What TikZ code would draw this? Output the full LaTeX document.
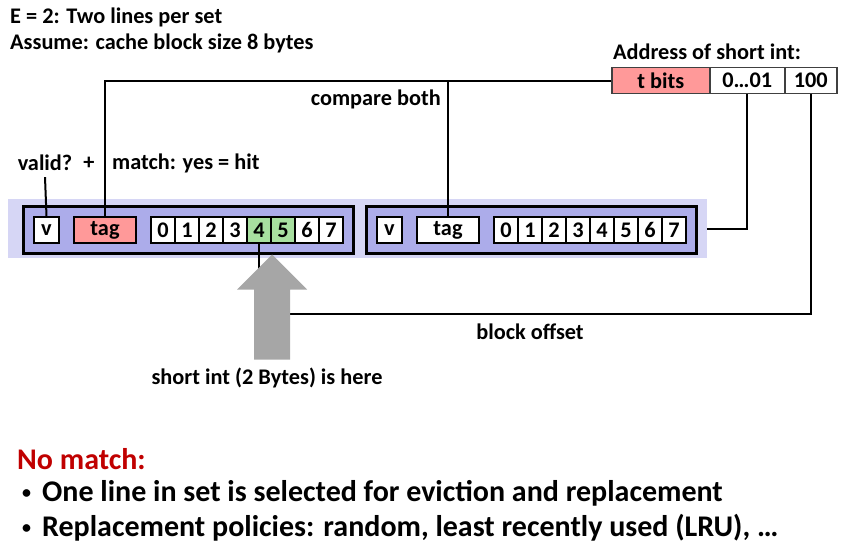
\documentclass[tikz,border=0pt]{standalone}
\usepackage{fontspec}
\setmainfont{Carlito}
\definecolor{lavouter}{RGB}{214,214,245}
\definecolor{linefill}{RGB}{172,172,234}
\definecolor{tagpink}{RGB}{255,153,153}
\definecolor{bytegreen}{RGB}{168,224,160}
\definecolor{arrowgray}{RGB}{166,166,166}
\definecolor{nored}{RGB}{192,0,0}
\definecolor{addrborder}{RGB}{64,64,64}
\newcommand{\smallbullet}{\raisebox{3pt}{\fontsize{18}{20}\selectfont•}\hspace{11pt}}
\begin{document}
\begin{tikzpicture}[x=1pt,y=-1pt,
  every node/.style={font=\bfseries\fontsize{22.3}{26}\selectfont},
  box/.style={draw, line width=2pt, minimum height=26pt, inner sep=0pt, anchor=north west, fill=white},
  cell/.style={box, minimum width=24pt},
  abox/.style={draw=addrborder, line width=1.5pt, minimum height=26pt, inner sep=0pt, anchor=north west, fill=white},
  linebox/.style={draw, line width=2.5pt, fill=linefill, minimum width=330pt, minimum height=47pt, anchor=north west, inner sep=0pt},
  wire/.style={line width=2pt},
  lbl/.style={inner sep=0pt},
  big/.style={inner sep=0pt, anchor=west, font=\bfseries\fontsize{30}{34}\selectfont}]
\useasboundingbox (0,0) rectangle (841,543);
% top texts
\node[lbl, anchor=west] (title1) at (10,17) {E = 2: Two lines per set};
\node[lbl, anchor=west] (title2) at (10,43) {Assume: cache block size 8 bytes};
% set
\node[fill=lavouter, minimum width=699pt, minimum height=59pt, anchor=north west, inner sep=0pt] (set) at (8,199) {};
% line 1
\node[linebox] (line1) at (22,205) {};
\node[box, minimum width=25pt] (v1) at (33,216) {v};
\node[box, minimum width=62pt, fill=tagpink] (tag1) at (73,216) {tag};
\foreach \k/\cc in {0/white,1/white,2/white,3/white,4/bytegreen,5/bytegreen,6/white,7/white}
  {\node[cell, fill=\cc] (c1-\k) at (150+24*\k,216) {\k};}
% line 2
\node[linebox] (line2) at (365,205) {};
\node[box, minimum width=25pt] (v2) at (376,216) {v};
\node[box, minimum width=62pt] (tag2) at (416,216) {tag};
\foreach \k in {0,...,7}
  {\node[cell] (c2-\k) at (493+24*\k,216) {\k};}
% address
\node[lbl] (addr) at (707,52) {Address of short int:};
\node[abox, minimum width=98pt, fill=tagpink] (tbits) at (611,67) {t bits};
\node[abox, minimum width=75pt] (mid) at (709,67) {0…01};
\node[abox, minimum width=52pt] (off) at (784,67) {100};
% labels
\node[lbl, anchor=east] (cmp) at (441,99) {compare both};
\node[lbl] (valid) at (45,163) {valid?};
\node[lbl] (plus) at (89,163) {+};
\node[lbl, anchor=west] (match) at (112,163) {match: yes = hit};
\node[lbl] (boff) at (530,332) {block offset};
\node[lbl] (here) at (267,378) {short int (2 Bytes) is here};
% connectors
\draw[wire] (tbits.west) -| (tag1.north);
\draw[wire] (tag2.north) -- (tag2.north |- tbits.west);
\draw[wire] (mid.south) |- (set.east);
\coordinate (offrow) at (0,314);
\draw[wire] (off.south) |- (offrow -| c1-4.south) -- (c1-4.south);
\draw[wire] ([yshift=-6pt]valid.south) -- (v1.north);
% big arrow
\coordinate (tip) at (line1.south -| c1-4.south east);
\fill[arrowgray] (tip) -- ++(35,35) -- ++(-17,0) -- ++(0,70) -- ++(-36,0) -- ++(0,-70) -- ++(-17,0) -- cycle;
% bottom text
\node[big, text=nored] (nomatch) at (17,459) {No match:};
\node[big] (b1) at (22,493) {\smallbullet One line in set is selected for eviction and replacement};
\node[big] (b2) at (22,528) {\smallbullet Replacement policies: random, least recently used (LRU), …};
\end{tikzpicture}
\end{document}
